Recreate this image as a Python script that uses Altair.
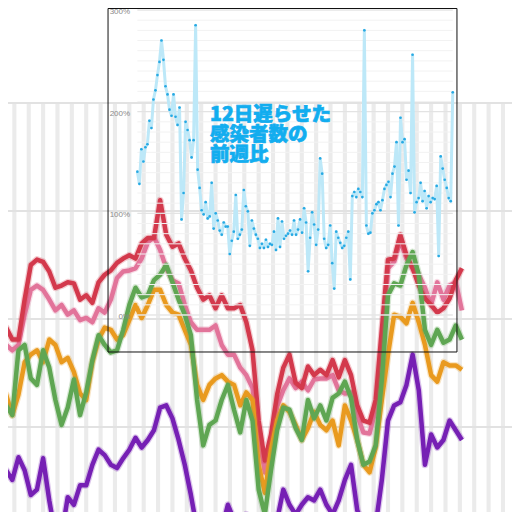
import altair as alt
import pandas as pd

# ---------------- data ----------------
# Inset: week-over-week ratio of cases, shifted 12 days (%), one value per day
ratio_pct = [141, 129, 163, 151, 165, 168, 191, 184, 212, 221, 236, 249, 270, 251, 225, 217, 202, 196, 217, 195,
             187, 204, 94, 120, 190, 182, 172, 155, 172, 285, 143, 125, 103, 99, 111, 95, 97, 130, 85, 100,
             93, 83, 79, 91, 87, 87, 60, 73, 82, 118, 75, 79, 84, 123, 107, 102, 68, 93, 85, 79,
             75, 66, 70, 66, 74, 67, 70, 69, 82, 64, 95, 67, 92, 75, 78, 80, 83, 79, 93, 79,
             84, 94, 81, 105, 91, 43, 76, 101, 89, 69, 84, 154, 139, 75, 66, 69, 88, 51, 26, 82,
             76, 71, 66, 68, 76, 82, 35, 117, 121, 116, 124, 121, 116, 280, 88, 80, 81, 100, 103, 109,
             111, 103, 113, 124, 128, 131, 116, 139, 146, 170, 88, 194, 170, 173, 133, 142, 120, 256, 101, 111,
             115, 130, 112, 122, 105, 117, 111, 115, 114, 127, 58, 156, 144, 133, 125, 115, 112, 219]
inset_title = "12日遅らせた\n感染者数の\n前週比"
inset_ticks = [0, 100, 200, 300]

# Background chart: five series sampled every 3 days
bg_days = list(range(0, 226, 3))
red = [194, 192, 181, 181, 218, 250, 255, 253, 244, 229, 231, 234, 233, 218, 222, 215, 234, 241, 245, 252,
       256, 259, 256, 270, 275, 275, 310, 278, 267, 270, 256, 245, 229, 218, 222, 210, 222, 210, 210, 213,
       197, 171, 106, 69, 93, 130, 155, 167, 141, 136, 156, 148, 153, 148, 162, 146, 162, 148, 120, 106,
       104, 125, 190, 255, 256, 278, 259, 247, 231, 219, 213, 206, 210, 219, 236, 247]
pink = [185, 176, 171, 176, 204, 227, 231, 227, 218, 208, 213, 204, 208, 199, 201, 197, 210, 206, 218, 238,
        244, 245, 247, 256, 271, 276, 264, 247, 236, 233, 213, 197, 190, 190, 190, 194, 176, 167, 167, 155,
        148, 136, 93, 58, 79, 119, 134, 145, 136, 142, 134, 144, 145, 145, 148, 134, 131, 132, 111, 95,
        94, 116, 181, 247, 253, 273, 256, 247, 241, 229, 213, 234, 218, 231, 234, 208]
orange = [128, 130, 111, 130, 160, 167, 171, 160, 181, 176, 160, 164, 151, 131, 125, 160, 181, 192, 190, 181,
          185, 199, 213, 201, 213, 227, 227, 213, 206, 204, 190, 176, 139, 125, 139, 145, 148, 142, 139, 120,
          132, 125, 65, 39, 79, 106, 120, 114, 102, 88, 99, 114, 102, 97, 106, 83, 120, 106, 88, 65,
          58, 81, 125, 167, 204, 202, 196, 215, 197, 176, 148, 142, 160, 157, 157, 153]
green = [109, 120, 111, 171, 176, 145, 139, 171, 155, 125, 102, 118, 144, 111, 132, 162, 185, 176, 169, 171,
         190, 213, 229, 220, 222, 236, 241, 250, 234, 218, 204, 185, 125, 83, 102, 106, 125, 139, 116, 95,
         125, 106, 42, 19, 60, 97, 118, 116, 99, 88, 125, 108, 120, 106, 127, 131, 142, 127, 88, 65,
         68, 83, 144, 222, 233, 231, 250, 262, 241, 190, 176, 190, 178, 181, 194, 181]
purple = [42, 60, 51, 72, 60, 37, 42, 71, 32, 0, 0, 35, 28, 46, 46, 65, 79, 74, 65, 62,
          71, 79, 90, 81, 88, 97, 118, 120, 108, 88, 65, 37, 5, -5, -9, -5, 5, 28, 14, 5,
          19, -5, -23, -23, -9, 14, 42, 28, 19, 28, 35, 32, 42, 28, 19, 32, 51, 65, 23, 9,
          5, 9, 51, 106, 120, 123, 139, 167, 134, 65, 93, 81, 88, 106, 97, 88]
bg_gridlines = [100, 200, 300, 400]
weekend_starts = list(range(6, 250, 7))

# ---------------- scales (layout) ----------------
W = H = 504
BG_Y_MIN = 21.3
bgx = alt.Scale(domain=[3.9, 249.4], nice=False, zero=False)
bgy = alt.Scale(domain=[BG_Y_MIN, 488.0], nice=False, zero=False)
inx = alt.Scale(domain=[-64.4, 186.5], nice=False, zero=False)
iny = alt.Scale(domain=[-193.8, 302.0], nice=False, zero=False)

# ---------------- background ----------------
stripes = pd.DataFrame({"d0": weekend_starts, "d1": [d + 2 for d in weekend_starts],
                        "top": 400, "bot": BG_Y_MIN})
stripe_layer = alt.Chart(stripes).mark_rect(color="#ebebeb").encode(
    x=alt.X("d0:Q", scale=bgx, axis=None), x2="d1:Q",
    y=alt.Y("top:Q", scale=bgy, axis=None), y2="bot:Q")

bg_grid = alt.Chart(pd.DataFrame({"v": bg_gridlines})).mark_rule(color="#e2e2e2", strokeWidth=2).encode(
    y=alt.Y("v:Q", scale=bgy, axis=None))

series = [("pink", pink, "#e2749a"), ("red", red, "#d3394c"), ("orange", orange, "#e99a1f"),
          ("green", green, "#5fa653"), ("purple", purple, "#7620b4")]
line_layers = []
for name, vals, col in series:
    df = pd.DataFrame({"day": bg_days, "val": vals})
    base = alt.Chart(df).encode(x=alt.X("day:Q", scale=bgx, axis=None),
                                y=alt.Y("val:Q", scale=bgy, axis=None))
    line_layers.append(base.mark_line(color=col, strokeWidth=7, opacity=0.25, clip=True,
                                      strokeJoin="round"))
    line_layers.append(base.mark_line(color=col, strokeWidth=4.5, clip=True, strokeJoin="round"))

# ---------------- inset ----------------
n = len(ratio_pct)
inset_df = pd.DataFrame({"i": list(range(n)), "pct": ratio_pct})

minor = pd.DataFrame({"p": list(range(0, 301, 10)), "x0": 0, "x1": n - 1})
minor_layer = alt.Chart(minor).mark_rule(color="#f2f2f2", strokeWidth=1).encode(
    x=alt.X("x0:Q", scale=inx, axis=None), x2="x1:Q",
    y=alt.Y("p:Q", scale=iny, axis=None))
major = pd.DataFrame({"p": inset_ticks, "x0": 0, "x1": n - 1})
major_layer = alt.Chart(major).mark_rule(color="#e0e0e0", strokeWidth=1).encode(
    x=alt.X("x0:Q", scale=inx, axis=None), x2="x1:Q",
    y=alt.Y("p:Q", scale=iny, axis=None))

labels = pd.DataFrame({"p": inset_ticks, "lab": [f"{t}%" for t in inset_ticks], "x": -3.6})
label_layer = alt.Chart(labels).mark_text(align="right", baseline="middle", dy=2, fontSize=8,
                                          font="Liberation Sans", color="#8a8a8a").encode(
    x=alt.X("x:Q", scale=inx, axis=None), y=alt.Y("p:Q", scale=iny, axis=None), text="lab:N")

inset_base = alt.Chart(inset_df).encode(x=alt.X("i:Q", scale=inx, axis=None),
                                        y=alt.Y("pct:Q", scale=iny, axis=None))
inset_line = inset_base.mark_line(color="#bde8f8", strokeWidth=3, strokeJoin="round")
inset_pts = inset_base.mark_circle(color="#27a9e3", size=7, opacity=1)

title_df = pd.DataFrame({"x": [36.2], "p": [205.5], "t": [inset_title]})
title_layer = alt.Chart(title_df).mark_text(
    align="left", baseline="top", lineBreak="\n", fontSize=19.5, lineHeight=20,
    font="Noto Sans CJK JP", fontWeight=900, color="#12adef",
    stroke="#12adef", strokeWidth=0.7).encode(
    x=alt.X("x:Q", scale=inx, axis=None), y=alt.Y("p:Q", scale=iny, axis=None), text="t:N")

frame_df = pd.DataFrame({"x0": [-14.6], "x1": [159.1], "p0": [-36.4], "p1": [301.5]})
frame_layer = alt.Chart(frame_df).mark_rect(fill=None, stroke="#111111", strokeWidth=1).encode(
    x=alt.X("x0:Q", scale=inx, axis=None), x2="x1:Q",
    y=alt.Y("p0:Q", scale=iny, axis=None), y2="p1:Q")

chart = alt.layer(
    stripe_layer, bg_grid, *line_layers,
    minor_layer, major_layer, label_layer, inset_line, inset_pts, title_layer, frame_layer
).resolve_scale(x="independent", y="independent").properties(
    width=W, height=H, padding=0, autosize="none", background="white"
).configure_view(stroke=None)

chart.save("out.html", embed_options={"renderer": "svg", "actions": False})
